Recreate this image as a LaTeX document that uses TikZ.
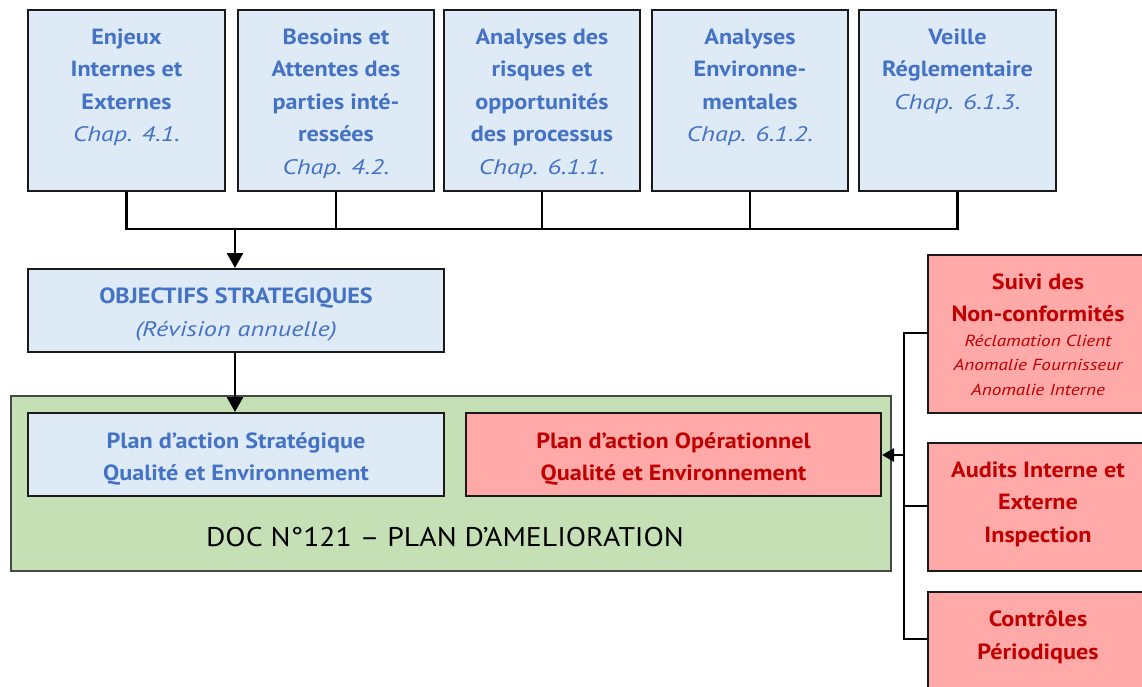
\documentclass[tikz,border=0pt]{standalone}
\usepackage{fontspec}
\setmainfont{PT Sans}[FakeStretch=1.1]
\newfontfamily\itfam{PT Sans}[FakeStretch=1.25]
\newfontfamily\smitfam{PT Sans}[FakeStretch=1.2]
\usetikzlibrary{arrows.meta}
\definecolor{bfill}{HTML}{DEEAF6}
\definecolor{btext}{HTML}{4472C4}
\definecolor{gfill}{HTML}{C5E0B4}
\definecolor{rfill}{HTML}{FFA9A9}
\definecolor{rtext}{HTML}{C00000}
\definecolor{edge}{HTML}{1A1A1A}
\tikzset{
  x=1pt,y=-1pt,
  boxb/.style={draw=edge,line width=2pt,fill=bfill,anchor=north west,inner sep=0pt},
  boxr/.style={draw=edge,line width=2pt,fill=rfill,anchor=north west,inner sep=0pt},
  boxg/.style={draw=edge!80,line width=1.6pt,fill=gfill,anchor=north west,inner sep=0pt},
  tb/.style={anchor=north,align=center,inner sep=0pt,text=btext,font=\fontsize{22}{32.5}\selectfont\bfseries},
  tr/.style={anchor=north,align=center,inner sep=0pt,text=rtext,font=\fontsize{22}{32.5}\selectfont\bfseries},
  conn/.style={line width=2.7pt,draw=black},
  arr/.style={conn,-{Triangle[length=15pt,width=16pt]}},
  arrs/.style={conn,-{Triangle[length=12pt,width=13pt]}},
}
\newcommand{\chp}[1]{{\itfam\fontsize{21}{32.5}\selectfont\mdseries\itshape #1}}
\newcommand{\smit}[1]{{\smitfam\fontsize{16}{24}\selectfont\mdseries\itshape #1}}
\begin{document}
\begin{tikzpicture}
\useasboundingbox (0,0) rectangle (1142,687);
\clip (0,0) rectangle (1142,687);
% top boxes
\node[boxb,minimum width=197pt,minimum height=181pt] (b1) at (27,9) {};
\node[boxb,minimum width=196pt,minimum height=181pt] (b2) at (237,9) {};
\node[boxb,minimum width=196pt,minimum height=181pt] (b3) at (443,9) {};
\node[boxb,minimum width=196pt,minimum height=181pt] (b4) at (651,9) {};
\node[boxb,minimum width=197pt,minimum height=181pt] (b5) at (858,9) {};
\node[tb] (t1) at ([yshift=-19.5pt]b1.north) {Enjeux\\Internes et\\Externes\\\chp{Chap. 4.1.}};
\node[tb] (t2) at ([yshift=-19.5pt]b2.north) {Besoins et\\Attentes des\\parties inté-\\ressées\\\chp{Chap. 4.2.}};
\node[tb] (t3) at ([yshift=-19.5pt]b3.north) {Analyses des\\risques et\\opportunités\\des processus\\\chp{Chap. 6.1.1.}};
\node[tb] (t4) at ([yshift=-19.5pt]b4.north) {Analyses\\Environne-\\mentales\\\chp{Chap. 6.1.2.}};
\node[tb] (t5) at ([yshift=-19.5pt]b5.north) {Veille\\Réglementaire\\\chp{Chap. 6.1.3.}};
% objectives
\node[boxb,minimum width=416pt,minimum height=83pt] (obj) at (27,268) {};
\node[tb] (tobj) at ([yshift=-20pt]obj.north) {OBJECTIFS STRATEGIQUES\\\chp{(Révision annuelle)}};
% green container
\node[boxg,minimum width=880pt,minimum height=175pt] (doc) at (10,395) {};
\node[anchor=base,inner sep=0pt,font=\fontsize{27}{30}\selectfont] (tdoc) at (445,546) {DOC N°121 – PLAN D’AMELIORATION};
\node[boxb,minimum width=416pt,minimum height=83pt] (ps) at (27,412) {};
\node[tb] (tps) at ([yshift=-20pt]ps.north) {Plan d’action Stratégique\\Qualité et Environnement};
\node[boxr,minimum width=415pt,minimum height=83pt] (po) at (465,412) {};
\node[tr] (tpo) at ([yshift=-20pt]po.north) {Plan d’action Opérationnel\\Qualité et Environnement};
% right boxes
\node[boxr,minimum width=220pt,minimum height=158pt] (r1) at (927,254) {};
\node[tr] (tr1) at ([yshift=-19.5pt]r1.north) {Suivi des\\Non-conformités\\[-8pt]\smit{Réclamation Client}\\[-8pt]\smit{Anomalie Fournisseur}\\[-8pt]\smit{Anomalie Interne}};
\node[boxr,minimum width=220pt,minimum height=128pt] (r2) at (927,442) {};
\node[tr] (tr2) at ([yshift=-19.5pt]r2.north) {Audits Interne et\\Externe\\Inspection};
\node[boxr,minimum width=220pt,minimum height=128pt] (r3) at (927,591) {};
\node[tr] (tr3) at ([yshift=-19.5pt]r3.north) {Contrôles\\Périodiques};
% connectors top
\coordinate (j) at (235,229);
\draw[conn] (b1.south) |- (j);
\draw[conn] (b5.south) |- (j);
\draw[conn] (b2.south) -- (b2.south |- j);
\draw[conn] (b3.south) -- (b3.south |- j);
\draw[conn] (b4.south) -- (b4.south |- j);
\draw[arr] (j) -- (obj.north -| j);
\draw[arr] (obj.south -| j) -- (ps.north -| j);
% right connectors
\coordinate (rj) at (904,455);
\draw[conn] (r1.west |- 0,333) -| (904,333) -- (904,639) -- (r3.west |- 0,639);
\draw[conn] (904,506) -- (r2.west |- 0,506);
\draw[arrs] (rj) -- (po.east |- rj);
\end{tikzpicture}
\end{document}
